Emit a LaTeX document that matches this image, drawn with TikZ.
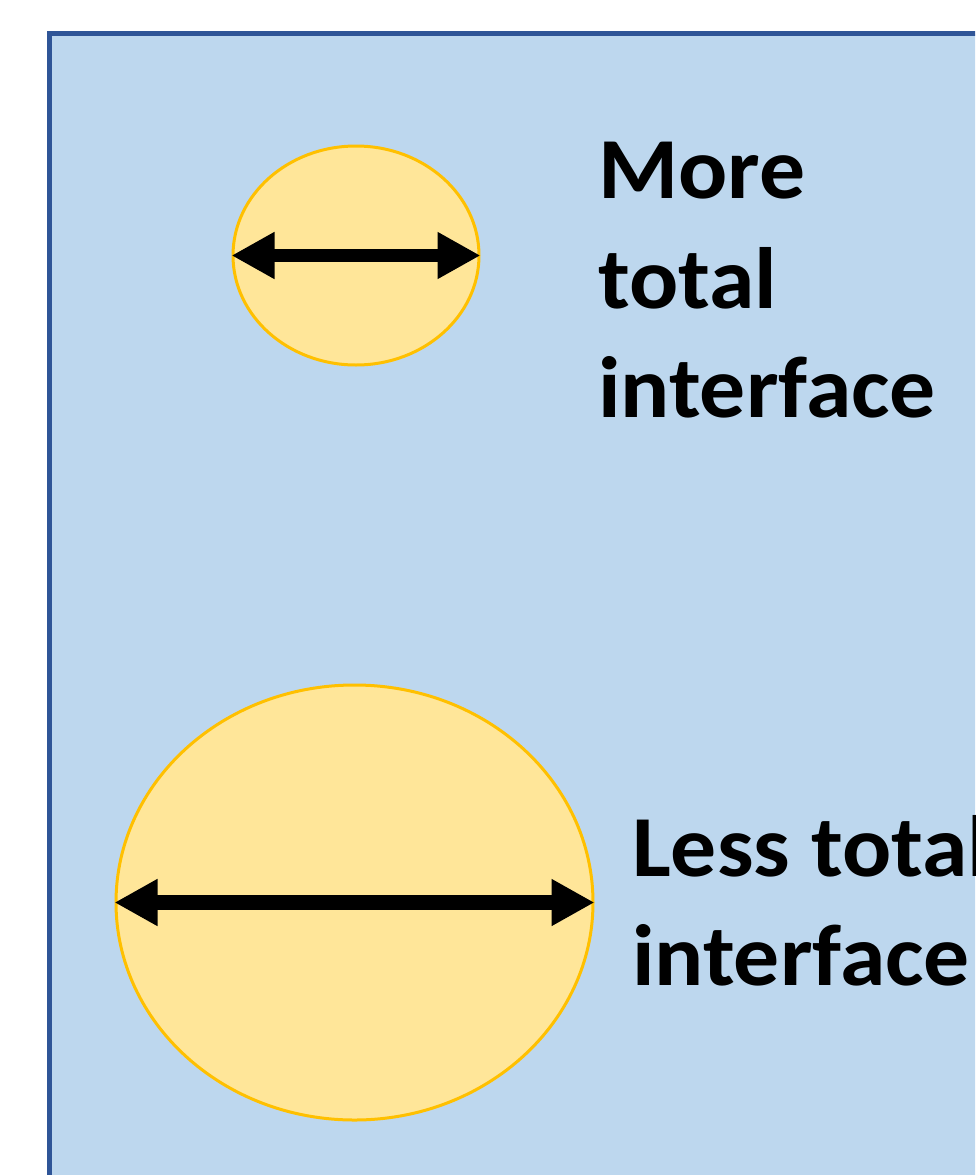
\documentclass[tikz,border=0pt]{standalone}
\usepackage{fontspec}
\setmainfont[FakeStretch=1.054]{Carlito}
\usetikzlibrary{shapes.geometric,arrows.meta}
\definecolor{panelfill}{HTML}{BDD7EE}
\definecolor{panelline}{HTML}{2F5597}
\definecolor{dropfill}{HTML}{FFE699}
\definecolor{dropline}{HTML}{FFC000}
\tikzset{
  drop/.style={ellipse, draw=dropline, fill=dropfill, line width=3pt, inner sep=0pt},
  diameter/.style={line width=#1, {Triangle[length=43pt,width=44pt]}-{Triangle[length=43pt,width=44pt]}},
  label/.style={anchor=base west, inner sep=0pt, font=\fontsize{87}{110}\selectfont\bfseries},
}
\begin{document}
\begin{tikzpicture}[x=1pt,y=-1pt]
  \useasboundingbox (0,0) rectangle (975,1175);
  \clip (0,0) rectangle (975,1175);
  % background panel, running off the right and bottom edges
  \draw[panelline, fill=panelfill, line width=5pt] (49.5,33.5) rectangle (1010,1210);

  % small droplet
  \node[drop, minimum width=246pt, minimum height=219pt] (small) at (356,255.5) {};
  \draw[diameter=13pt] (small.west) -- (small.east);

  % large droplet
  \node[drop, minimum width=477pt, minimum height=435pt] (large) at (354.5,902.5) {};
  \draw[diameter=15pt] (large.west) -- (large.east);

  % captions
  \node[label] (m1) at (598,198) {More};
  \node[label] (m2) at (598,308) {total};
  \node[label] (m3) at (598,417) {interface};
  \node[label] (l1) at (632,876) {Less total};
  \node[label] (l2) at (632,985) {interface};
\end{tikzpicture}
\end{document}
